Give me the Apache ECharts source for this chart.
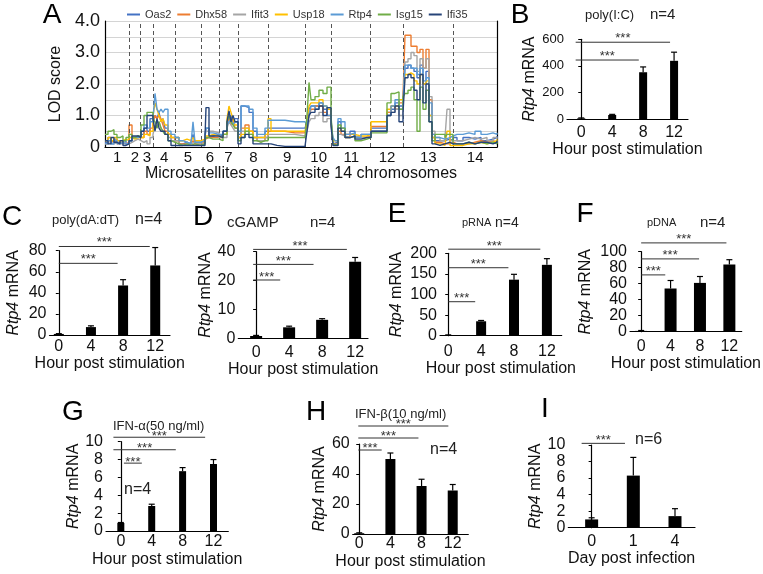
<!DOCTYPE html>
<html><head><meta charset="utf-8">
<script src="https://cdn.jsdelivr.net/npm/echarts@6/dist/echarts.min.js"></script>
<style>html,body{margin:0;padding:0;background:#fff}#c{width:763px;height:574px}</style>
</head><body><div id="c"></div>
<script>
// ---------- Panel A data ----------
const chromNames = ['1','2','3','4','5','6','7','8','9','10','11','12','13','14'];
const chromBounds = [0,24.3,35.7,48.3,70,96,114,133,163.7,200.7,226.7,265.7,298.3,348.3,392];
const lodTicks = ['0','','1.0','','2.0','','3.0','','4.0'];
const markerPos = [0,3,6,9,12,15,18,21,24, 27,30,33, 36,39,42,45,48, 50,52,54,56,58,60,63,66,70,
 74,78,82,86,88,90,96, 100,101,104,108,114, 118,122,124,126,128,130,133,
 136,140,144,148,152,156,160,163, 166,172,180,190,200, 202,204,206,210,214,218,222,226,
 228,230,233,236,240,245,250,256,262,266, 270,276,282,286,290,294,298,
 300,303,306,309,312,315,318,321,324,327,330,335,340,342,345,348,
 352,358,364,370,376,382,388,392];
const geneNames = ['Oas2','Dhx58','Ifit3','Usp18','Rtp4','Isg15','Ifi35'];
const oas2 = [0.15,0.3,0.1,0.25,0.15,0.1,0.2,0.1,0.2, 0.3,0.35,0.3, 0.4,0.6,0.5,0.9,0.8,
 1.0,0.9,1.1,0.8,0.9,0.6,0.4,0.2,0.3, 0.1,0.15,0.1,0.2,0.4,0.15,0.2, 0.3,0.6,0.35,0.4,0.35,
 0.5,0.7,0.9,1.0,0.8,0.9,0.4, 1.3,1.25,1.1,0.5,0.3,0.3,0.5,0.6, 0.6,0.6,0.6,0.6,0.55,
 0.8,1.2,1.3,1.3,1.4,1.2,1.2,0.9, 0.1,0.15,0.8,0.6,0.4,0.5,0.3,0.4,0.4,0.6,
 0.6,0.6,1.1,1.2,1.4,1.3,1.5, 2.5,2.6,2.5,2.4,2.2,2.6,2.0,2.4,1.0,0.3,0.2,0.2,0.15,0.25,0.2,0.3,
 0.2,0.3,0.25,0.3,0.2,0.25,0.3,0.35];
const dhx58 = [0.1,0.2,0.15,0.2,0.1,0.15,0.1,0.15,0.7, 0.3,0.3,0.3, 0.3,0.5,0.4,0.6,0.8,
 1.0,0.9,1.0,0.9,0.7,0.5,0.4,0.3,0.2, 0.1,0.1,0.1,0.15,0.2,0.1,0.15, 0.25,0.3,0.3,0.3,0.3,
 0.4,0.8,0.9,0.7,0.9,0.6,0.3, 0.6,0.7,0.5,0.3,0.2,0.2,0.3,0.5, 0.5,0.5,0.45,0.45,0.4,
 0.7,1.0,1.2,1.3,1.3,1.1,1.0,0.8, 0.1,0.1,0.5,0.4,0.3,0.4,0.3,0.3,0.35,0.65,
 0.65,0.65,1.1,1.3,1.2,1.4,1.6, 3.55,3.55,3.2,3.2,3.0,3.1,2.5,3.1,1.5,0.4,0.15,0.1,0.1,0.1,0.15,0.1,
 0.1,0.1,0.15,0.2,0.15,0.2,0.15,0.2];
const ifit3 = [0.1,0.15,0.1,0.15,0.1,0.1,0.1,0.1,0.15, 0.2,0.25,0.2, 0.15,0.2,0.1,0.3,0.4,
 0.7,0.6,0.8,0.6,0.5,0.4,0.3,0.2,0.2, 0.05,0.1,0.1,0.1,0.15,0.1,0.1, 0.4,0.5,0.5,0.45,0.3,
 0.3,0.6,0.8,0.7,0.6,0.5,0.3, 0.5,0.6,0.4,0.3,0.2,0.2,0.3,0.4, 0.4,0.4,0.4,0.35,0.3,
 0.5,0.8,0.9,1.0,1.1,0.8,0.9,0.7, 0.05,0.1,0.4,0.35,0.3,0.35,0.3,0.3,0.3,0.5,
 0.5,0.5,1.0,1.1,1.2,1.0,1.3, 2.7,2.8,3.0,2.9,2.4,2.8,2.5,2.8,1.6,0.5,0.3,0.2,0.3,1.2,0.2,0.2,
 0.2,0.25,0.3,0.25,0.3,0.2,0.3,0.25];
const usp18 = [0.2,0.3,0.2,0.3,0.2,0.2,0.25,0.2,0.3, 0.25,0.3,0.3, 0.3,0.4,0.35,0.5,1.0,
 1.4,1.2,1.0,0.8,0.9,0.7,0.4,0.3,0.3, 0.2,0.25,0.2,0.25,0.3,0.2,0.25, 0.35,0.35,0.4,0.35,0.3,
 0.4,0.9,1.3,1.1,0.9,0.7,0.3, 0.4,0.6,0.5,0.3,0.3,0.3,0.4,0.9, 0.5,0.5,0.5,0.5,0.45,
 0.8,1.3,1.4,1.4,1.5,1.3,1.2,0.8, 0.2,0.2,0.6,0.5,0.4,0.4,0.35,0.35,0.4,0.8,
 0.8,0.8,1.2,1.3,1.3,1.5,1.4, 2.3,2.35,2.3,2.1,2.0,2.3,2.0,2.1,1.0,0.3,0.1,0.05,0.05,0.5,0.05,0.05,
 0.05,0.1,0.1,0.15,0.1,0.15,0.2,0.25];
const rtp4 = [0.1,0.2,0.1,0.2,0.1,0.15,0.1,0.1,0.2, 0.3,0.3,0.35, 0.5,0.7,0.6,0.8,0.9,
 1.7,1.2,1.1,1.2,1.1,1.2,0.5,0.4,0.3, 0.2,0.15,0.1,0.15,0.8,0.15,0.2, 0.4,0.6,0.45,0.4,0.4,
 0.5,0.7,0.8,0.9,0.7,0.8,0.5, 1.3,1.3,1.2,0.6,0.4,0.4,0.6,0.85, 0.85,0.85,0.8,0.8,0.8,
 0.7,1.0,1.3,1.2,1.4,1.3,1.0,0.8, 0.3,0.2,0.9,0.8,0.4,0.45,0.3,0.4,0.4,0.5,
 0.5,0.5,1.0,1.3,1.5,1.2,1.4, 2.6,2.6,2.5,2.5,2.3,2.5,2.1,2.2,1.4,0.4,0.3,0.25,0.3,0.3,0.35,0.4,
 0.4,0.45,0.4,0.5,0.4,0.45,0.4,0.45];
const isg15 = [0.4,0.5,0.55,0.4,0.3,0.35,0.2,0.3,0.4, 0.3,0.35,0.35, 0.7,1.0,1.1,1.1,0.9,
 0.8,0.6,0.8,0.6,0.5,0.4,0.2,0.15,0.1, 0.05,0.1,0.05,0.1,0.1,0.05,0.1, 0.2,0.3,0.25,0.25,0.2,
 0.4,0.8,1.0,0.8,0.7,0.6,0.2, 0.3,0.5,0.4,0.2,0.15,0.2,0.2,0.3, 0.3,0.3,0.3,0.3,0.25,
 1.0,2.05,1.5,1.6,1.8,1.7,1.9,1.0, 0.1,0.05,0.7,0.6,0.3,0.35,0.2,0.25,0.3,0.45,
 0.45,0.45,1.4,1.7,1.75,1.2,1.6, 1.7,1.8,1.9,1.5,0.5,1.9,1.2,1.8,0.8,0.2,0.4,0.4,0.3,0.4,0.4,0.1,
 0.1,0.15,0.1,0.15,0.1,0.15,0.1,0.2];
const ifi35 = [0.2,0.1,0.3,0.15,0.1,0.2,0.05,0.1,0.2, 0.35,0.35,0.3, 0.5,0.6,1.0,1.0,0.9,
 0.5,0.9,0.6,0.5,0.5,0.4,0.2,0.05,0.05, 0.05,0.05,0.05,0.1,0.05,0.05,0.05, 0.3,1.25,0.35,0.35,0.3,
 0.5,0.8,1.15,0.8,1.0,0.8,0.1, 0.3,0.4,0.3,0.1,0.1,0.1,0.1,0.1, 0.05,0.02,0.02,0.02,0.02,
 0.5,1.0,1.1,1.2,1.3,1.0,1.25,0.7, 0.05,0.05,0.6,0.5,0.3,0.35,0.25,0.3,0.3,0.5,
 0.5,0.5,1.0,1.1,1.3,0.8,1.1, 2.2,2.3,2.2,1.8,1.5,2.3,1.4,2.0,0.8,0.1,0.05,0.1,0.05,0.15,0.1,0.1,
 0.1,0.15,0.1,0.15,0.15,0.1,0.15,0.2];
const geneValues = [oas2, dhx58, ifit3, usp18, rtp4, isg15, ifi35];
const geneColors = ['#4472C4','#ED7D31','#A5A5A5','#FFC000','#5B9BD5','#70AD47','#264478'];

// ---------- Bar panels data ----------
const hours = ['0','4','8','12'];
const days = ['0','1','4'];
const bMean = [5, 30, 352, 438];   const bErr = [3, 5, 40, 65];
const cMean = [1, 7.5, 47, 66];    const cErr = [0.3, 1.2, 5.5, 17];
const dMean = [0.8, 3.8, 6.4, 26.5]; const dErr = [0.2, 0.4, 0.4, 1.5];
const dTicks = ['0','10','20','40'];
const eMean = [1, 35, 136, 172];   const eErr = [1, 2, 13, 15];
const fMean = [1, 54, 61, 84];     const fErr = [0.5, 10, 8, 6];
const gMean = [0.9, 2.8, 6.7, 7.5]; const gErr = [0.05, 0.2, 0.4, 0.5];
const hMean = [0.5, 50, 32, 29];   const hErr = [0.3, 4, 4.5, 4];
const iMean = [1.0, 6.3, 1.4];     const iErr = [0.2, 2.2, 0.9];
// significance brackets: [from, to, height] in data units
const bSig = [[-0.18,1.86,444],[-0.18,2.87,578]];
const cSig = [[0,1.83,68],[0,2.83,84]];
const dSig = [[-0.09,0.73,20.2],[-0.09,1.74,25.6],[-0.09,2.75,30.8]];
const eSig = [[0,0.82,82.5],[0,1.83,165],[0,2.8,210]];
const fSig = [[0,0.82,71],[0,1.97,91],[0,2.9,111]];
const gSig = [[0.1,0.68,7.6],[-0.24,1.78,9.1],[-0.24,2.73,10.5]];
const hSig = [[-0.03,0.72,56],[-0.03,1.9,64],[-0.03,2.86,72]];
const iSig = [[-0.24,0.8,10.2]];

const FF = 'Liberation Sans, Arial, Helvetica, sans-serif';

const panels = [
 {cats:hours, mean:bMean, err:bErr, sig:bSig, yMax:600, yInt:200, box:[567,39.3,688,119], xr:[-0.46,3.45], barW:8, yFont:13, xMargin:6, nameGap:20, yNameGap:29, starGap:7, xTitle:'Hour post stimulation'},
 {cats:hours, mean:cMean, err:cErr, sig:cSig, yMax:80, yInt:20, box:[49.5,250.7,170,335], xr:[-0.29,3.46], barW:10, yFont:16, xMargin:4, nameGap:20, yNameGap:28, starGap:7, xTitle:'Hour post stimulation'},
 {cats:hours, mean:dMean, err:dErr, sig:dSig, yMax:30, yInt:10, ticks:dTicks, box:[238.3,251.7,368,338.3], xr:[-0.54,3.39], barW:12, yFont:16, xMargin:6, nameGap:20, yNameGap:15, starGap:6, xTitle:'Hour post stimulation'},
 {cats:hours, mean:eMean, err:eErr, sig:eSig, yMax:200, yInt:50, box:[440,253.3,561.7,335.7], xr:[-0.25,3.45], barW:10, yFont:16, xMargin:8, nameGap:21, yNameGap:35, starGap:6, xTitle:'Hour post stimulation'},
 {cats:hours, mean:fMean, err:fErr, sig:fSig, yMax:100, yInt:20, box:[630,251.7,746.7,331.7], xr:[-0.38,3.42], barW:12, yFont:16, xMargin:7, nameGap:23, yNameGap:36, starGap:6, xTitle:'Hour post stimulation'},
 {cats:hours, mean:gMean, err:gErr, sig:gSig, yMax:10, yInt:2, box:[106,441.7,228.3,531], xr:[-0.48,3.48], barW:7, yFont:16, xMargin:3, nameGap:21, yNameGap:22, starGap:4, xTitle:'Hour post stimulation'},
 {cats:hours, mean:hMean, err:hErr, sig:hSig, yMax:60, yInt:20, box:[352.7,444,468.3,534], xr:[-0.21,3.5], barW:10, yFont:16, xMargin:2, nameGap:20, yNameGap:24, starGap:4.5, xTitle:'Hour post stimulation'},
 {cats:days, mean:iMean, err:iErr, sig:iSig, yMax:10, yInt:2, box:[568.3,445,695,527.7], xr:[-0.56,2.48], barW:13, yFont:16, xMargin:6, nameGap:19, yNameGap:12, starGap:6, xTitle:'Day post infection'}
];

const letters = [['A',52,15],['B',520,15],['C',12,217],['D',203,217],['E',397,214],['F',585,214],['G',73,412],['H',316,412],['I',545,409]];
const notes = [
 ['poly(I:C)',585,15,13],['n=4',650,15,15],
 ['poly(dA:dT)',52,220,13],['n=4',135,220,16],
 ['cGAMP',227,223,15],['n=4',310,223,15],
 ['pRNA',462,223,11],['n=4',495,223,14],
 ['pDNA',647,223,11],['n=4',700,223,15],
 ['IFN-α(50 ng/ml)',113,426,13],['n=4',124,490,16],
 ['IFN-β(10 ng/ml)',355,414,13],['n=4',430,450,16],
 ['n=6',635,440,16]
];

// ---------- build option ----------
const grid = [], xAxis = [], yAxis = [], series = [];
// Panel A
grid.push({left:105, top:21, width:392, height:126});
xAxis.push({type:'value', gridIndex:0, min:0, max:392, splitLine:{show:false},
  axisLine:{lineStyle:{color:'#000', width:1.2}}, axisTick:{show:false},
  axisLabel:{customValues: chromNames.map((n,i)=> (chromBounds[i]+chromBounds[i+1])/2), fontSize:15, color:'#111', margin:3,
    formatter:(v)=>{ for(let i=0;i<chromNames.length;i++){ if(v>chromBounds[i] && v<chromBounds[i+1]) return chromNames[i]; } return ''; }},
  name:'Microsatellites on parasite 14 chromosomes', nameLocation:'middle', nameGap:15,
  nameTextStyle:{fontSize:16, color:'#111'}});
yAxis.push({type:'value', gridIndex:0, min:0, max:4, interval:0.5,
  axisLine:{show:true, lineStyle:{color:'#000', width:1.2}}, axisTick:{show:false},
  splitLine:{lineStyle:{color:'#d4d4d4', width:1}},
  axisLabel:{fontSize:18, color:'#111', margin:5, formatter:(v)=>lodTicks[Math.round(v*2)]},
  name:'LOD score', nameLocation:'middle', nameGap:30, nameTextStyle:{fontSize:16, color:'#111'}});
yAxis.push({type:'value', gridIndex:0, min:0, max:4, position:'right',
  axisLine:{show:true, lineStyle:{color:'#000', width:1.2}}, axisTick:{show:false}, axisLabel:{show:false}, splitLine:{show:false}});
geneNames.forEach((g,k)=>{
  const s = {type:'line', name:g, xAxisIndex:0, yAxisIndex:0, step:'end', showSymbol:false, symbol:'none',
    data: markerPos.map((x,i)=>[x, geneValues[k][i]]),
    lineStyle:{width:1.4, color:geneColors[k]}, itemStyle:{color:geneColors[k]}, silent:true, z:3+k};
  if(k===0){
    s.markLine = {silent:true, symbol:'none', label:{show:false},
      lineStyle:{type:[4,3], color:'#555', width:1},
      data: chromBounds.slice(1,-1).map(b=>({xAxis:b}))};
  }
  series.push(s);
});

function errRender(params, api){
  const x = api.value(0), m = api.value(1), e = api.value(2);
  const p0 = api.coord([x,m]), p1 = api.coord([x,m+e]);
  const hw = 3;
  return {type:'group', children:[
    {type:'line', shape:{x1:p0[0],y1:p0[1],x2:p1[0],y2:p1[1]}, style:{stroke:'#000', lineWidth:1.2}},
    {type:'line', shape:{x1:p1[0]-hw,y1:p1[1],x2:p1[0]+hw,y2:p1[1]}, style:{stroke:'#000', lineWidth:1.2}}
  ]};
}
function makeSigRender(gap){
  return function(params, api){
    const a = api.coord([api.value(0), api.value(2)]), b = api.coord([api.value(1), api.value(2)]);
    return {type:'group', children:[
      {type:'line', shape:{x1:a[0],y1:a[1],x2:b[0],y2:b[1]}, style:{stroke:'#333', lineWidth:1}},
      {type:'text', x:(a[0]+b[0])/2, y:a[1]-gap+3, style:{text:'***', fontSize:13, fontFamily:FF, fill:'#333', align:'center', verticalAlign:'middle'}}
    ]};
  };
}

panels.forEach((p,idx)=>{
  const gi = idx+1;
  const [l,t,r,b] = p.box;
  grid.push({left:l, top:t, width:r-l, height:b-t});
  const cv = p.cats.map((c,i)=>i);
  xAxis.push({type:'value', gridIndex:gi, min:p.xr[0], max:p.xr[1], splitLine:{show:false},
    axisLine:{lineStyle:{color:'#000', width:1.2}}, axisTick:{show:false},
    axisLabel:{customValues:cv, fontSize:16, color:'#111', margin:p.xMargin, formatter:(v)=>p.cats[Math.round(v)]},
    name:p.xTitle, nameLocation:'middle', nameGap:p.nameGap, nameTextStyle:{fontSize:16, color:'#111'}});
  yAxis.push({type:'value', gridIndex:gi, min:0, max:p.yMax, interval:p.yInt, splitLine:{show:false},
    axisLine:{show:true, lineStyle:{color:'#000', width:1.2}},
    axisTick:{show:true, length:3, lineStyle:{color:'#000'}},
    axisLabel:{fontSize:p.yFont, color:'#111', margin:3,
      formatter: p.ticks ? ((v)=>p.ticks[Math.round(v/p.yInt)]) : ((v)=>String(v))},
    name:'{i|Rtp4} mRNA', nameLocation:'middle', nameGap:p.yNameGap,
    nameTextStyle:{fontSize:16, color:'#111', rich:{i:{fontStyle:'italic', fontSize:16, color:'#111'}}}});
  const xi = xAxis.length-1, yi = yAxis.length-1;
  series.push({type:'bar', xAxisIndex:xi, yAxisIndex:yi, barWidth:p.barW, silent:true,
    data:p.mean.map((v,i)=>[i,v]), itemStyle:{color:'#000'}});
  series.push({type:'custom', xAxisIndex:xi, yAxisIndex:yi, renderItem:errRender, silent:true, clip:false,
    encode:{x:0, y:1}, data:p.mean.map((v,i)=>[i,v,p.err[i]]), z:3});
  series.push({type:'custom', xAxisIndex:xi, yAxisIndex:yi, renderItem:makeSigRender(p.starGap), silent:true, clip:false,
    encode:{x:0, y:2}, data:p.sig, z:4});
});

const graphic = [];
letters.forEach(([t,x,y])=>graphic.push({type:'text', x:x, y:y, style:{text:t, fontSize:28, fontFamily:FF, fill:'#000', align:'center', verticalAlign:'middle', textAlign:'center', textVerticalAlign:'middle'}}));
notes.forEach(([t,x,y,fs])=>graphic.push({type:'text', x:x, y:y, style:{text:t, fontSize:fs, fontFamily:FF, fill:'#222', align:'left', verticalAlign:'middle', textAlign:'left', textVerticalAlign:'middle'}}));

const option = {
  animation:false,
  backgroundColor:'#fff',
  textStyle:{fontFamily:FF},
  legend:{data:geneNames, left:122, top:4, icon:'rect', itemWidth:13, itemHeight:2, itemGap:6,
    textStyle:{fontSize:11, color:'#333'}, selectedMode:false},
  grid, xAxis, yAxis, series, graphic
};
const chart = echarts.init(document.getElementById('c'), null, {renderer:'canvas'});
chart.setOption(option);
</script></body></html>
